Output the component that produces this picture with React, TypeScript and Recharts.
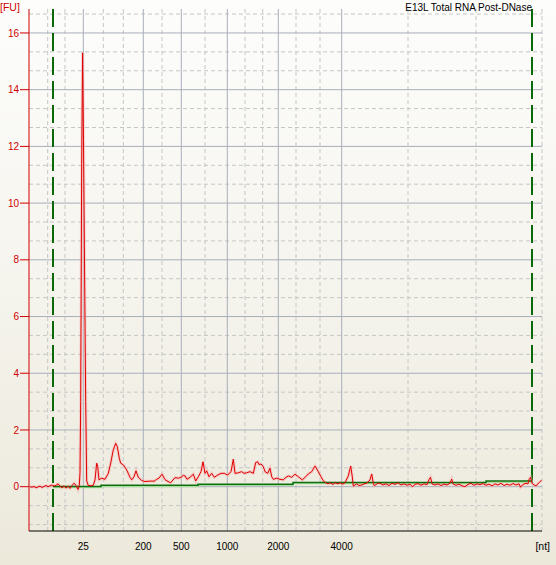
import { LineChart, Line, XAxis, YAxis, CartesianGrid, ReferenceLine } from "recharts";

// ── electropherogram trace: migration time [s] vs fluorescence [FU] ─────────
const time = [
  17.1, 17.3, 17.5, 17.7, 17.9, 18.1, 18.3, 18.5, 18.7, 18.9, 19.1, 19.3, 19.5, 19.7, 19.9,
  20.1, 20.3, 20.5, 20.7, 20.9, 21.1, 21.3, 21.5, 21.7, 21.9, 22.03, 22.1, 22.17, 22.27, 22.36,
  22.45, 22.56, 22.67, 22.77, 22.93, 23.2, 23.43, 23.6, 23.77, 23.87, 24.0, 24.27, 24.6, 24.93,
  25.17, 25.43, 25.67, 25.83, 26.03, 26.17, 26.43, 26.77, 27.1, 27.27, 27.5, 27.7, 27.93, 28.27,
  28.6, 28.9, 29.27, 29.5, 29.77, 30.0, 30.3, 30.6, 30.9, 31.17, 31.6, 31.93, 32.2, 32.43, 32.6,
  32.8, 33.1, 33.43, 33.67, 33.93, 34.2, 34.4, 34.6, 34.77, 35.0, 35.27, 35.53, 35.87, 36.2,
  36.53, 36.87, 37.2, 37.43, 37.6, 37.93, 38.27, 38.5, 38.77, 39.1, 39.43, 39.67, 39.87, 40.0,
  40.2, 40.43, 40.6, 40.87, 41.1, 41.27, 41.43, 41.77, 42.1, 42.43, 42.7, 42.93, 43.27, 43.6,
  43.93, 44.33, 44.67, 44.93, 45.27, 45.6, 45.93, 46.2, 46.43, 46.67, 46.9, 47.1, 47.4, 47.6,
  47.9, 48.1, 48.4, 48.6, 48.93, 49.17, 49.33, 49.43, 49.77, 50.0, 50.27, 50.5, 50.77, 51.1,
  51.27, 51.43, 51.53, 51.87, 52.1, 52.4, 52.7, 53.0, 53.3, 53.6, 53.9, 54.2, 54.5, 54.8, 55.1,
  55.33, 55.6, 55.9, 56.2, 56.5, 56.8, 57.0, 57.15, 57.3, 57.6, 57.9, 58.2, 58.5, 58.8, 59.1,
  59.27, 59.4, 59.7, 60.0, 60.3, 60.6, 60.9, 61.2, 61.5, 61.8, 62.1, 62.4, 62.7, 63.0, 63.3,
  63.6, 63.9, 64.2, 64.5, 64.8, 65.1, 65.4, 65.7, 66.0, 66.15, 66.4, 66.7, 66.9, 67.0, 67.15,
  67.3, 67.5, 67.7, 67.9, 68.1, 68.25,
];
const fu = [
  0.0, -0.02, 0.01, -0.04, -0.01, 0.02, -0.03, 0.01, 0.04, 0.0, 0.03, 0.06, 0.02, 0.05, 0.1,
  0.02, -0.04, 0.03, -0.05, 0.02, -0.06, 0.04, 0.12, 0.05, -0.1, 0.05, 0.5, 3.0, 11.4, 15.3,
  12.2, 7.5, 3.0, 0.2, 0.04, 0.03, 0.05, 0.24, 0.83, 0.71, 0.24, 0.3, 0.26, 0.47,
  0.83, 1.3, 1.53, 1.41, 1.0, 0.83, 0.77, 0.59, 0.33, 0.24, 0.35, 0.56, 0.33, 0.22,
  0.18, 0.19, 0.2, 0.19, 0.26, 0.3, 0.44, 0.25, 0.18, 0.14, 0.32, 0.3, 0.33, 0.4, 0.38,
  0.26, 0.33, 0.44, 0.2, 0.35, 0.53, 0.88, 0.47, 0.56, 0.35, 0.47, 0.33, 0.41, 0.47,
  0.47, 0.41, 0.53, 0.97, 0.47, 0.49, 0.53, 0.47, 0.49, 0.53, 0.47, 0.85, 0.88, 0.78,
  0.8, 0.71, 0.53, 0.47, 0.65, 0.35, 0.26, 0.3, 0.26, 0.24, 0.33, 0.38, 0.33, 0.44,
  0.35, 0.24, 0.35, 0.45, 0.53, 0.73, 0.53, 0.35, 0.21, 0.14, 0.1, 0.14, 0.08, 0.14,
  0.1, 0.14, 0.09, 0.14, 0.38, 0.73, 0.35, 0.02, 0.1, 0.04, 0.06, 0.1, 0.12, 0.24,
  0.45, 0.12, 0.03, 0.12, 0.12, 0.06, 0.1, 0.04, 0.12, 0.08, 0.14, 0.06, 0.1, 0.05, 0.09,
  0.0, 0.08, 0.11, 0.05, 0.1, 0.07, 0.25, 0.33, 0.1, 0.06, 0.1, 0.04, 0.09, 0.06, 0.12,
  0.27, 0.1, 0.05, 0.09, 0.03, 0.0, 0.08, 0.12, 0.05, 0.1, 0.07, 0.11, 0.05, 0.09, 0.03,
  0.1, 0.06, 0.12, 0.04, 0.09, 0.05, 0.11, 0.06, 0.1, -0.02, 0.08, 0.12, 0.1, 0.25, 0.33,
  0.12, 0.06, 0.03, 0.1, 0.18, 0.22,
];

// baseline fitted by the software (step segments)
const baselineTime = [19.4, 24.2, 33.9, 43.4, 62.7, 67.3];
const baselineFu = [0.01, 0.05, 0.09, 0.15, 0.2, 0.2];

// ladder positions → nt labels
const ladderNt = [25, 200, 500, 1000, 2000, 4000];
const ladderTime = [22.43, 28.43, 32.23, 36.83, 41.93, 48.27];
const minorGridTime = [18.87, 20.6, 24.43, 26.43, 30.3, 34.6, 38.6, 40.37, 43.7, 46.1, 54.9, 61.7, 68.3];

// lower / upper marker window
const markerTime = [19.4, 67.3];

const fuTicks = [0, 2, 4, 6, 8, 10, 12, 14, 16];
const minorFu = [...fuTicks.flatMap((v) => [v - 4 / 3, v - 2 / 3]), 16 + 2 / 3];

const trace = time.map((t, i) => ({ t, fu: fu[i] }));
const baseline = baselineTime.map((t, i) => ({ t, fu: baselineFu[i] }));
const baselineLight = baselineTime.map((t, i) => ({ t, fu: baselineFu[i] - 0.04 }));

const FONT = '"Liberation Sans", Arial, sans-serif';
const RED = "#d00000";

function XTick({ x, y, payload }: any) {
  const i = ladderTime.indexOf(payload.value);
  return (
    <text x={x} y={y} dy={19} textAnchor="middle" fill="#000" fontSize={10} fontFamily={FONT}>
      {i >= 0 ? ladderNt[i] : ""}
    </text>
  );
}

function YTick({ x, y, payload }: any) {
  return (
    <text x={x} y={y} dy={3.6} textAnchor="end" fill={RED} fontSize={10} fontFamily={FONT}>
      {payload.value}
    </text>
  );
}

export default function App() {
  return (
    <div
      style={{
        position: "absolute",
        left: 0,
        top: 0,
        width: 556,
        height: 565,
        background: "linear-gradient(to bottom, #fdfdfc 0%, #f6f5ef 45%, #ece9db 100%)",
        fontFamily: FONT,
      }}
    >
      <LineChart width={556} height={565} margin={{ top: 9, right: 14, bottom: 0, left: 0 }}>
        <CartesianGrid
          horizontalValues={minorFu}
          verticalValues={minorGridTime}
          stroke="#c6c6c6"
          strokeDasharray="4 3"
        />
        <CartesianGrid
          horizontalValues={fuTicks}
          verticalValues={ladderTime}
          stroke="#a9aebb"
        />
        <XAxis
          type="number"
          dataKey="t"
          domain={[17, 68.3]}
          ticks={ladderTime}
          interval={0}
          allowDataOverflow
          height={34}
          tickLine={false}
          tickSize={0}
          tickMargin={0}
          axisLine={{ stroke: "#000", strokeWidth: 1 }}
          tick={<XTick />}
        />
        <YAxis
          type="number"
          domain={[-1.563, 16.845]}
          ticks={fuTicks}
          interval={0}
          allowDataOverflow
          width={29}
          tickSize={9}
          tickMargin={1}
          tickLine={{ stroke: RED }}
          axisLine={{ stroke: RED, strokeWidth: 1 }}
          tick={<YTick />}
        />
        {markerTime.map((t) => (
          <ReferenceLine key={t} x={t} stroke="#0a6a0a" strokeWidth={2} strokeDasharray="18 6" />
        ))}
        <Line
          data={baselineLight}
          dataKey="fu"
          type="stepAfter"
          stroke="#a6df9c"
          strokeWidth={1.5}
          dot={false}
          isAnimationActive={false}
        />
        <Line
          data={trace}
          dataKey="fu"
          type="linear"
          stroke="#f6b4b4"
          strokeOpacity={0.55}
          strokeWidth={3}
          dot={false}
          isAnimationActive={false}
        />
        <Line
          data={baseline}
          dataKey="fu"
          type="stepAfter"
          stroke="#0f6e0f"
          strokeWidth={1.5}
          dot={false}
          isAnimationActive={false}
        />
        <Line
          data={trace}
          dataKey="fu"
          type="linear"
          stroke="#e00000"
          strokeWidth={1}
          dot={false}
          isAnimationActive={false}
        />
      </LineChart>
      <svg
        width={556}
        height={565}
        style={{ position: "absolute", left: 0, top: 0, pointerEvents: "none" }}
      >
        <text x={0} y={11} fill={RED} fontSize={10.5} fontFamily={FONT}>[FU]</text>
        <text x={532} y={11} textAnchor="end" fill="#000" fontSize={10} fontFamily={FONT}>
          E13L Total RNA Post-DNase
        </text>
        <text x={550} y={550} textAnchor="end" fill="#000" fontSize={10.5} fontFamily={FONT}>[nt]</text>
      </svg>
    </div>
  );
}
